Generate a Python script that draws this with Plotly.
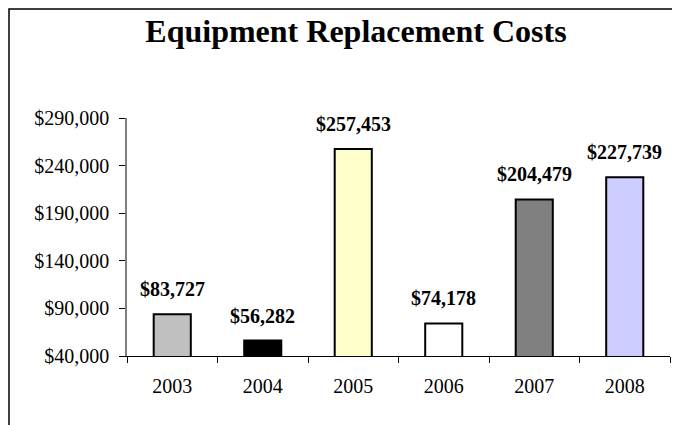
import plotly.graph_objects as go

years = ["2003", "2004", "2005", "2006", "2007", "2008"]
costs = [83727, 56282, 257453, 74178, 204479, 227739]
bar_colors = ["#C0C0C0", "#000000", "#FFFFCC", "#FFFFFF", "#808080", "#CCCCFF"]
y_ticks = [40000, 90000, 140000, 190000, 240000, 290000]
y_tick_labels = ["$40,000", "$90,000", "$140,000", "$190,000", "$240,000", "$290,000"]
title = "Equipment Replacement Costs"

FONT = "Liberation Serif, Times New Roman, serif"

fig = go.Figure()
fig.add_trace(go.Bar(
    x=years, y=costs, base=0,
    marker=dict(color=bar_colors, line=dict(color="black", width=2)),
    width=0.41,
    hoverinfo="skip",
))

annotations = []
for i, v in enumerate(costs):
    annotations.append(dict(
        x=i, y=v, xref="x", yref="y",
        text="<b>${:,}</b>".format(v),
        showarrow=False, yanchor="bottom", yshift=12,
        font=dict(family=FONT, size=20, color="black"),
    ))

# page body has an 8px margin; figure coordinates are screen coordinates minus 8
OFF = 8
W, H = 680 - OFF, 425 - OFF
ml, mr, mt = 127 - OFF, W - (670 - OFF), 118 - OFF
mb = H - (356 - OFF)
pw, ph = W - ml - mr, H - mt - mb

def px_x(p):
    return (p - OFF - ml) / pw

def px_y(p):
    return 1 - (p - OFF - mt) / ph

fig.update_layout(
    width=W, height=H,
    margin=dict(l=ml, r=mr, t=mt, b=mb, autoexpand=False),
    paper_bgcolor="white", plot_bgcolor="white",
    showlegend=False,
    title=dict(text="<b>" + title + "</b>", x=(356 - OFF) / W, xref="container", xanchor="center",
               y=1 - (31 - OFF) / H, yanchor="middle",
               font=dict(family=FONT, size=32, color="black")),
    font=dict(family=FONT, size=20, color="black"),
    xaxis=dict(
        type="category", showgrid=False, showline=True, linecolor="black", linewidth=1,
        ticks="outside", tickson="boundaries", ticklen=6, tickcolor="black",
        ticklabelstandoff=12, range=[-0.5, 5.5],
        tickfont=dict(family=FONT, size=20, color="black"),
    ),
    yaxis=dict(
        range=[40000, 290000], tickvals=y_ticks, ticktext=y_tick_labels,
        showgrid=False, showline=True, linecolor="#808080", linewidth=1.5,
        ticks="outside", ticklen=6, tickcolor="black", zeroline=False,
        ticklabelstandoff=6,
        tickfont=dict(family=FONT, size=20, color="black"),
    ),
    annotations=annotations,
    shapes=[dict(type="rect", xref="paper", yref="paper",
                 x0=px_x(9), x1=px_x(700), y0=px_y(440), y1=px_y(9),
                 line=dict(color="black", width=1.5), fillcolor="rgba(0,0,0,0)",
                 layer="below")],
)

fig.write_html("out.html")
